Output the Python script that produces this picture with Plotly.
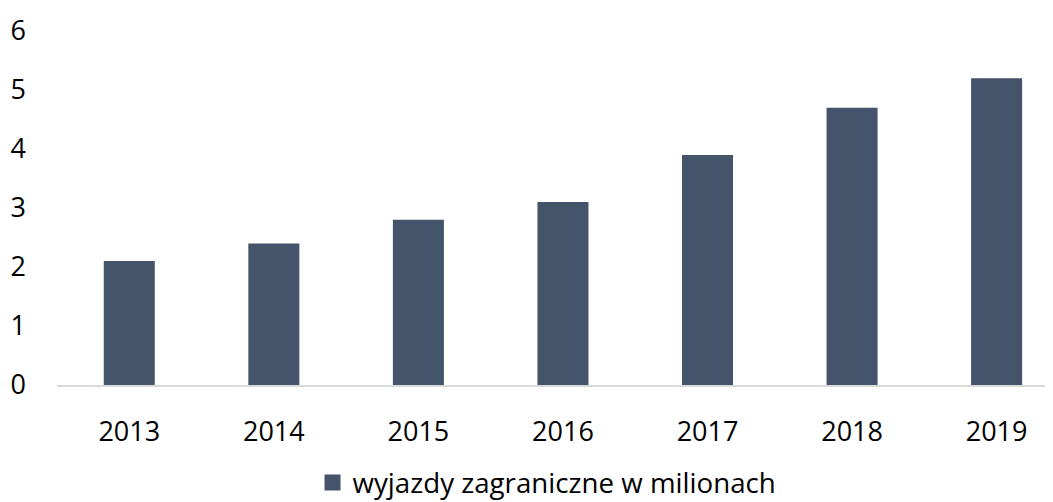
import plotly.graph_objects as go

years = ["2013", "2014", "2015", "2016", "2017", "2018", "2019"]
values = [2.1, 2.4, 2.8, 3.1, 3.9, 4.7, 5.2]
series_name = "wyjazdy zagraniczne w milionach"
y_ticks = [0, 1, 2, 3, 4, 5, 6]

FONT = "Open Sans"
BAR = "#44546A"
FS = 27

fig = go.Figure()
fig.add_trace(go.Bar(
    x=years, y=values, name=series_name,
    marker=dict(color=BAR, line=dict(width=0)),
    showlegend=False,
))
# legend entry with a larger square swatch
fig.add_trace(go.Scatter(
    x=[None], y=[None], mode="markers", name=series_name,
    marker=dict(symbol="square", size=18, color=BAR),
    showlegend=True,
))

# page body has an 8px default margin, so the figure is sized to fit
fig.update_layout(
    width=1045, height=494,
    margin=dict(l=49, r=0, t=23, b=117, autoexpand=False),
    paper_bgcolor="white", plot_bgcolor="white",
    font=dict(family=FONT, size=FS, color="#000000"),
    bargap=0.647,
    showlegend=True,
    legend=dict(orientation="h", x=0.492, xanchor="center", y=-0.277, yanchor="middle",
                font=dict(family=FONT, size=27.7, color="#000000"),
                itemwidth=30, tracegroupgap=0),
)
fig.update_xaxes(
    type="category", range=[-0.5, 6.39], automargin=False,
    showline=True, linecolor="#D9D9D9", linewidth=2,
    showgrid=False, ticks="", ticklabelstandoff=22,
    tickfont=dict(family=FONT, size=FS, color="#000000"),
)
fig.update_yaxes(
    range=[0, 6], tickvals=y_ticks, showgrid=False, zeroline=False, automargin=False,
    showline=False, ticks="", ticklabelstandoff=30,
    tickfont=dict(family=FONT, size=FS, color="#000000"),
)

fig.write_html("out.html")
